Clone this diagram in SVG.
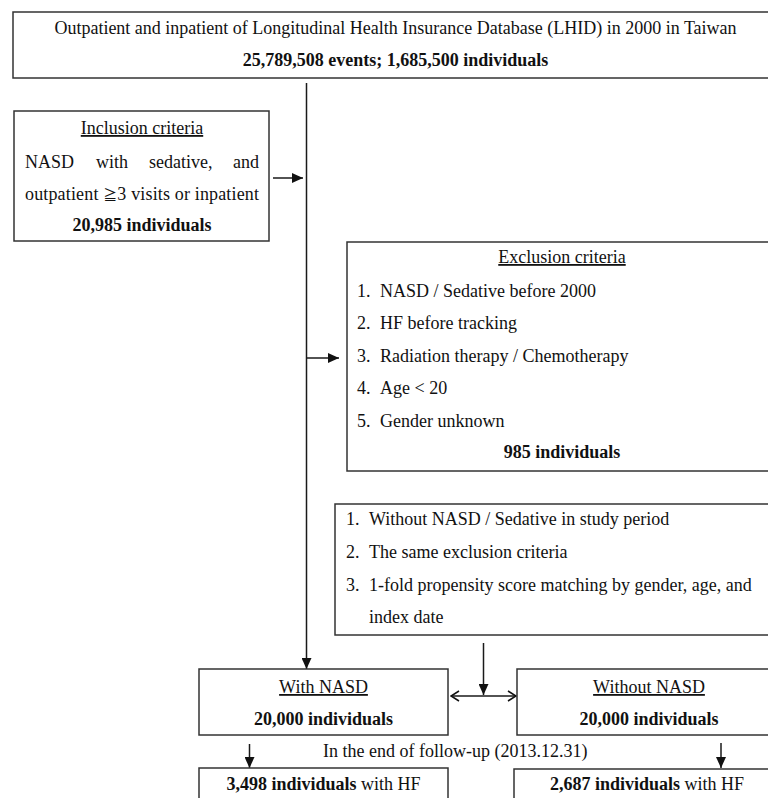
<svg xmlns="http://www.w3.org/2000/svg" width="768" height="798" viewBox="0 0 768 798">
<style>
  .box { fill: #ffffff; stroke: #333333; stroke-width: 1.5; }
  .t { font-family: "Liberation Serif", "Times New Roman", "Noto Sans CJK JP", serif; font-size: 18px; fill: #111111; }
  .c { text-anchor: middle; }
  .b { font-weight: bold; }
  .u { text-decoration: underline; }
  .sym { font-size: 14px; }
  .line { stroke: #1a1a1a; stroke-width: 1.5; fill: none; }
</style>
<defs>
  <marker id="arr" markerUnits="userSpaceOnUse" markerWidth="12" markerHeight="10" refX="11" refY="5" orient="auto">
    <path d="M0,0 L11,5 L0,10 Z" fill="#111111"/>
  </marker>
  <marker id="open" markerUnits="userSpaceOnUse" markerWidth="10" markerHeight="12" refX="9" refY="6" orient="auto-start-reverse">
    <path d="M1,1 L9,6 L1,11" fill="none" stroke="#111111" stroke-width="1.5"/>
  </marker>
</defs>
<rect width="768" height="798" fill="#ffffff"/>

<g id="connectors">
  <line class="line" x1="306.5" y1="83" x2="306.5" y2="669" marker-end="url(#arr)"/>
  <line class="line" x1="273" y1="178" x2="303" y2="178" marker-end="url(#arr)"/>
  <line class="line" x1="306.5" y1="358" x2="339" y2="358" marker-end="url(#arr)"/>
  <line class="line" x1="483.5" y1="643" x2="483.5" y2="695" marker-end="url(#arr)"/>
  <line class="line" x1="451" y1="696" x2="516" y2="696" marker-start="url(#open)" marker-end="url(#open)"/>
  <line class="line" x1="249.5" y1="744" x2="249.5" y2="768" marker-end="url(#arr)"/>
  <line class="line" x1="721" y1="743" x2="721" y2="768" marker-end="url(#arr)"/>
</g>

<g id="source">
  <rect class="box" x="13" y="12" width="780" height="66"/>
  <text class="t c" x="395.5" y="34">Outpatient and inpatient of Longitudinal Health Insurance Database (LHID) in 2000 in Taiwan</text>
  <text class="t c b" x="395.5" y="66">25,789,508 events; 1,685,500 individuals</text>
</g>

<g id="inclusion">
  <rect class="box" x="14" y="111" width="255" height="130"/>
  <text class="t c u" x="142" y="134">Inclusion criteria</text>
  <text class="t" x="25" y="168">NASD</text>
  <text class="t" x="96" y="168">with</text>
  <text class="t" x="149" y="168">sedative,</text>
  <text class="t" x="259" y="168" text-anchor="end">and</text>
  <text class="t" x="25" y="200" textLength="234" lengthAdjust="spacing">outpatient <tspan class="sym">≧</tspan>3 visits or inpatient</text>
  <text class="t c b" x="142" y="231">20,985 individuals</text>
</g>

<g id="exclusion">
  <rect class="box" x="347" y="242" width="450" height="229"/>
  <text class="t c u" x="562" y="263">Exclusion criteria</text>
  <text class="t" x="357" y="297">1.</text><text class="t" x="380" y="297">NASD / Sedative before 2000</text>
  <text class="t" x="357" y="329">2.</text><text class="t" x="380" y="329">HF before tracking</text>
  <text class="t" x="357" y="362">3.</text><text class="t" x="380" y="362">Radiation therapy / Chemotherapy</text>
  <text class="t" x="357" y="394">4.</text><text class="t" x="380" y="394">Age &lt; 20</text>
  <text class="t" x="357" y="427">5.</text><text class="t" x="380" y="427">Gender unknown</text>
  <text class="t c b" x="562" y="458">985 individuals</text>
</g>

<g id="matching">
  <rect class="box" x="335" y="504" width="460" height="131"/>
  <text class="t" x="346" y="525">1.</text><text class="t" x="369" y="525">Without NASD / Sedative in study period</text>
  <text class="t" x="346" y="558">2.</text><text class="t" x="369" y="558">The same exclusion criteria</text>
  <text class="t" x="346" y="591">3.</text><text class="t" x="369" y="591">1-fold propensity score matching by gender, age, and</text>
  <text class="t" x="369" y="623">index date</text>
</g>

<g id="with-nasd">
  <rect class="box" x="199" y="669" width="249" height="66"/>
  <text class="t c u" x="323.5" y="693">With NASD</text>
  <text class="t c b" x="323.5" y="725">20,000 individuals</text>
</g>

<g id="without-nasd">
  <rect class="box" x="517" y="669" width="280" height="66"/>
  <text class="t c u" x="649" y="693">Without NASD</text>
  <text class="t c b" x="649" y="725">20,000 individuals</text>
</g>

<g id="follow-up">
  <text class="t" x="323" y="757">In the end of follow-up (2013.12.31)</text>
</g>

<g id="with-hf">
  <rect class="box" x="199" y="768" width="249" height="50"/>
  <text class="t c" x="323.5" y="790"><tspan class="b">3,498 individuals</tspan> with HF</text>
</g>

<g id="without-hf">
  <rect class="box" x="514" y="769" width="280" height="50"/>
  <text class="t c" x="647" y="790"><tspan class="b">2,687 individuals</tspan> with HF</text>
</g>
</svg>
